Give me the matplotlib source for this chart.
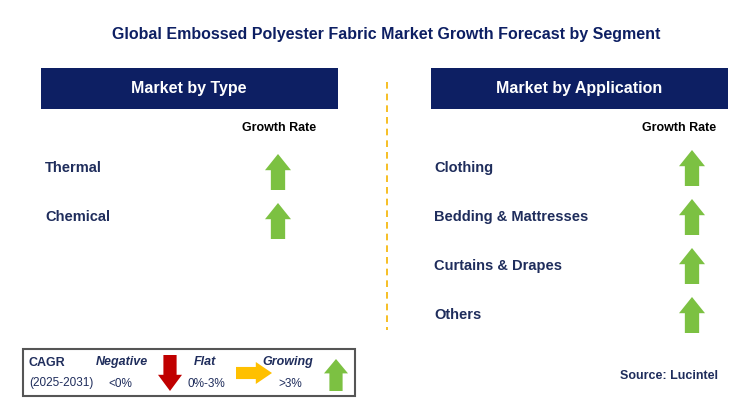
import matplotlib.pyplot as plt
from matplotlib.patches import Rectangle, Polygon

plt.rcParams["font.family"] = "Liberation Sans"

# chart data
title = "Global Embossed Polyester Fabric Market Growth Forecast by Segment"
type_segments = ["Thermal", "Chemical"]
type_trend = ["up", "up"]
app_segments = ["Clothing", "Bedding & Mattresses", "Curtains & Drapes", "Others"]
app_trend = ["up", "up", "up", "up"]

navy = "#0d1f63"
text_col = "#1f2d5c"
green = "#7cc142"
red = "#c00000"
yellow = "#ffc000"

fig = plt.figure(figsize=(7.48, 4.18), dpi=100)
ax = fig.add_axes([0, 0, 1, 1])
ax.set_xlim(0, 748)
ax.set_ylim(418, 0)
ax.axis("off")


def arrow(cx, cy, kind, w=26, h=36):
    # vertical up/down arrow centred at cx, cy or rightward arrow
    sw = w * 0.55
    hh = h * 0.45
    if kind == "up":
        top, bot = cy - h / 2, cy + h / 2
        pts = [(cx - w / 2, top + hh), (cx, top), (cx + w / 2, top + hh),
               (cx + sw / 2, top + hh), (cx + sw / 2, bot), (cx - sw / 2, bot),
               (cx - sw / 2, top + hh)]
        col = green
    elif kind == "down":
        top, bot = cy - h / 2, cy + h / 2
        pts = [(cx - w / 2, bot - hh), (cx, bot), (cx + w / 2, bot - hh),
               (cx + sw / 2, bot - hh), (cx + sw / 2, top), (cx - sw / 2, top),
               (cx - sw / 2, bot - hh)]
        col = red
    else:
        l, r = cx - h / 2, cx + h / 2
        pts = [(r - hh, cy - w / 2), (r, cy), (r - hh, cy + w / 2),
               (r - hh, cy + sw / 2), (l, cy + sw / 2), (l, cy - sw / 2),
               (r - hh, cy - sw / 2)]
        col = yellow
    ax.add_patch(Polygon(pts, closed=True, color=col, lw=0))


ax.text(386, 34, title, ha="center", va="center", fontsize=11.5,
        fontweight="bold", color=navy)

# header boxes
for x0, label in [(41, "Market by Type"), (431, "Market by Application")]:
    ax.add_patch(Rectangle((x0, 68), 297, 41, color=navy, lw=0))
    ax.text(x0 + 148, 89, label, ha="center", va="center", fontsize=11.5,
            fontweight="bold", color="white")

# dashed divider
ax.plot([387, 387], [82, 330], ls=(0, (4, 3)), color="#f5b400", lw=1.2)

ax.text(279, 128, "Growth Rate", ha="center", va="center", fontsize=9,
        fontweight="bold", color="black")
ax.text(679, 128, "Growth Rate", ha="center", va="center", fontsize=9,
        fontweight="bold", color="black")

for i, (seg, tr) in enumerate(zip(type_segments, type_trend)):
    y = 168 + i * 49
    ax.text(45, y, seg, ha="left", va="center", fontsize=10.5,
            fontweight="bold", color=text_col)
    arrow(278, y + 4, tr)

for i, (seg, tr) in enumerate(zip(app_segments, app_trend)):
    y = 168 + i * 49
    ax.text(434, y, seg, ha="left", va="center", fontsize=10.5,
            fontweight="bold", color=text_col)
    arrow(692, y, tr)

# legend box
ax.add_patch(Rectangle((23, 349), 332, 47, fill=False, ec="#555555", lw=1.5))
ax.text(29, 363, "CAGR", fontsize=9, fontweight="bold", color=text_col, va="center")
ax.text(29, 383, "(2025-2031)", fontsize=8.5, color=text_col, va="center")
ax.text(122, 362, "Negative", fontsize=9, fontweight="bold", style="italic",
        color=text_col, ha="center", va="center")
ax.text(120, 384, "<0%", fontsize=8.5, color=text_col, ha="center", va="center")
arrow(170, 373, "down", w=24, h=36)
ax.text(205, 362, "Flat", fontsize=9, fontweight="bold", style="italic",
        color=text_col, ha="center", va="center")
ax.text(206, 384, "0%-3%", fontsize=8.5, color=text_col, ha="center", va="center")
arrow(254, 373, "right", w=22, h=36)
ax.text(288, 362, "Growing", fontsize=9, fontweight="bold", style="italic",
        color=text_col, ha="center", va="center")
ax.text(290, 384, ">3%", fontsize=8.5, color=text_col, ha="center", va="center")
arrow(336, 375, "up", w=24, h=32)

ax.text(620, 376, "Source: Lucintel", ha="left", va="center", fontsize=9,
        fontweight="bold", color=text_col)

fig.savefig("out.png", dpi=100)
